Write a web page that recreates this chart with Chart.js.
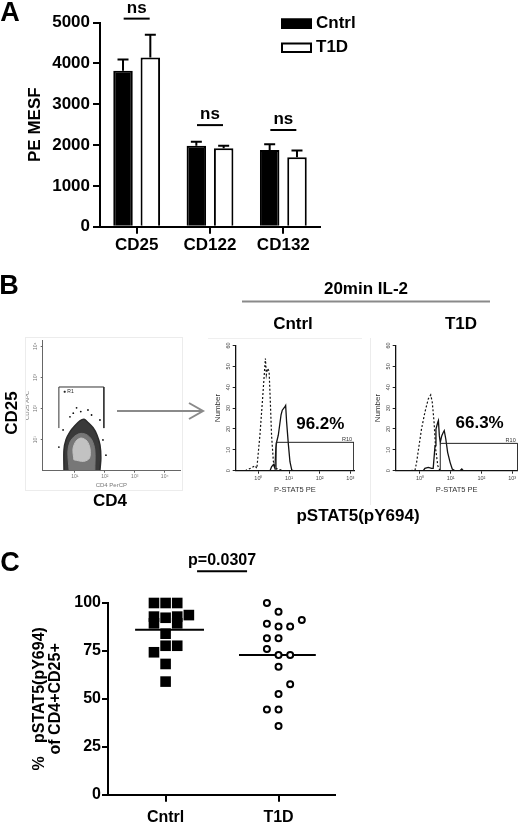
<!DOCTYPE html>
<html><head><meta charset="utf-8">
<script src="https://cdn.jsdelivr.net/npm/chart.js@4.4.0/dist/chart.umd.min.js"></script>
<style>
html,body{margin:0;padding:0;background:#fff;}
body{width:520px;height:823px;position:relative;overflow:hidden;font-family:"Liberation Sans",Arial,Helvetica,sans-serif;}
canvas{position:absolute;}
.t{position:absolute;white-space:nowrap;color:#000;font-weight:bold;font-size:17px;line-height:1;transform:translate(-50%,-50%);}
.letter{font-size:27px;}
.rot{transform:translate(-50%,-50%) rotate(-90deg);}
</style></head><body>
<canvas id="cA"></canvas>
<canvas id="cDot"></canvas>
<canvas id="cH1"></canvas>
<canvas id="cH2"></canvas>
<canvas id="cC"></canvas>
<svg width="520" height="823" style="position:absolute;left:0;top:0;pointer-events:none">
  <rect x="25.5" y="337.5" width="157" height="153" fill="none" stroke="#ececec" stroke-width="1"/>
  <line x1="208" y1="338.5" x2="362" y2="338.5" stroke="#efefef" stroke-width="1"/>
  <line x1="370.5" y1="338" x2="370.5" y2="505" stroke="#ececec" stroke-width="1"/>
  <line x1="242" y1="301.5" x2="490" y2="301.5" stroke="#8a8a8a" stroke-width="2"/>
  <line x1="117" y1="411" x2="202" y2="411" stroke="#8a8a8a" stroke-width="2"/>
  <polyline points="189,403 203,411 189,419" fill="none" stroke="#8a8a8a" stroke-width="2"/>
</svg>
<div class="t letter" style="left:10px;top:12px">A</div>
<div class="t letter" style="left:9px;top:285px">B</div>
<div class="t letter" style="left:10px;top:562px">C</div>
<div class="t" style="left:366px;top:288px">20min IL-2</div>
<div class="t" style="left:293px;top:323px">Cntrl</div>
<div class="t" style="left:461px;top:323px">T1D</div>
<div class="t rot" style="left:11px;top:413px">CD25</div>
<div class="t" style="left:110px;top:500px">CD4</div>
<div class="t" style="left:358px;top:515px">pSTAT5(pY694)</div>
<script>
// ================= DATA =================
// Panel A : PE MESF (mean + upper error bar end)
const receptorLabels = ['CD25', 'CD122', 'CD132'];
const groupNames = ['Cntrl', 'T1D'];
const cntrlMesf = [3825, 1985, 1880];
const t1dMesf = [4150, 1925, 1700];
const cntrlMesfUpper = [4100, 2085, 2020];
const t1dMesfUpper = [4705, 1985, 1865];
const nsBracketLevels = [5100, 2490, 2370];
const mesfTicks = [0, 1000, 2000, 3000, 4000, 5000];

// Panel B : flow histograms (x = log10 decades, y = count)
const decadeTicks = [0, 1, 2, 3];
const decadeTickLabels = ['10⁰', '10¹', '10²', '10³'];
const countTicks = [0, 10, 20, 30, 40, 50, 60];
const cntrlIsoLog = [-0.43, -0.22, -0.11, -0.05, 0.05, 0.13, 0.20, 0.23, 0.26, 0.30, 0.35, 0.39, 0.43, 0.49, 0.57, 0.82];
const cntrlIsoCount = [0, 1.4, 2.4, 1.1, 17, 33, 47.7, 53.8, 46, 49, 47.7, 33, 17, 4.3, 1.1, 0];
const cntrlStimLog = [0.38, 0.43, 0.49, 0.54, 0.57, 0.60, 0.65, 0.74, 0.78, 0.85, 0.89, 0.92, 0.98, 1.03, 1.09, 1.14];
const cntrlStimCount = [0, 1.9, 3, 1.1, 10.8, 14, 17, 26.8, 29, 30.3, 31.3, 23.6, 12.4, 4.3, 0.3, 0];
const t1dIsoLog = [-0.30, -0.16, -0.11, -0.03, 0.05, 0.16, 0.27, 0.35, 0.40, 0.46, 0.51, 0.58, 0.65];
const t1dIsoCount = [0, 0.3, 4, 12, 20, 28, 34.4, 36.3, 32.8, 23, 10.4, 2.4, 0];
const t1dStimLog = [0.05, 0.11, 0.16, 0.27, 0.38, 0.43, 0.49, 0.52, 0.58, 0.60, 0.63, 0.66, 0.71, 0.76, 0.79, 0.84, 0.90, 0.98, 1.05, 1.14, 1.30, 1.36, 1.41];
const t1dStimCount = [0, 0, 1.1, 1.6, 1.1, 1.1, 12, 20, 23.2, 24, 16.8, 13.6, 16.8, 18.4, 19.2, 15.2, 8.8, 4, 0.8, 0, 0, 0.8, 0];
const cntrlGateLog = [0.58, 3.12];
const cntrlGateLevel = 13.6;
const t1dGateLog = [0.66, 3.18];
const t1dGateLevel = 13.1;
const pctPositive = [96.2, 66.3];

// Panel B : CD4 vs CD25 density (log10 decades)
const dotTicks = [1, 2, 3, 4];
const dotTickLabels = ['10¹', '10²', '10³', '10⁴'];
const outerCd4 = [0.64, 0.64, 0.71, 0.84, 1.01, 1.17, 1.31, 1.44, 1.61, 1.74, 1.84, 1.87, 1.84];
const outerCd25 = [0.02, 0.67, 1.00, 1.25, 1.45, 1.60, 1.65, 1.55, 1.38, 1.15, 0.83, 0.41, 0.02];
const midCd4 = [0.81, 0.77, 0.84, 1.01, 1.21, 1.41, 1.57, 1.67, 1.67];
const midCd25 = [0.02, 0.60, 0.92, 1.12, 1.20, 1.15, 0.99, 0.67, 0.02];
const innerCd4 = [0.97, 0.94, 1.04, 1.21, 1.41, 1.51, 1.49, 1.30, 0.97];
const innerCd25 = [0.35, 0.70, 0.95, 1.05, 0.95, 0.70, 0.40, 0.30, 0.35];
const eventCd4 = [1.06, 1.44, 1.56, 0.84, 1.84, 0.61, 1.94, 0.47, 2.04, 1.20, 0.95];
const eventCd25 = [2.02, 1.95, 1.79, 1.73, 1.63, 1.31, 0.99, 0.76, 0.50, 1.90, 1.85];
const gateR1Cd4 = [0.47, 1.97];
const gateR1Cd25 = [1.37, 2.69];

// Panel C : % pSTAT5 of CD4+CD25+
const cntrlPct = [100, 100, 100, 93.7, 92.9, 89.4, 92.3, 92.9, 89.4, 84, 77.7, 77.7, 74.3, 68.2, 59];
const cntrlCol = [-1, 0, 1, 2, -1, -1, 0, 1, 1, 0, 0, 1, -1, 0, 0];
const t1dPct = [100, 95.5, 91.1, 89.2, 87.8, 87.8, 81.6, 81.6, 76, 72.9, 72.9, 66.8, 57.6, 52.5, 44.5, 44.5, 35.8];
const t1dCol = [-1, 0, 2, -1, 0, 1, -1, 0, -1, 0, 1, 0, 1, 0, -1, 0, 0];
const pctTicks = [0, 25, 50, 75, 100];
const pValueText = 'p=0.0307';

// ================= HELPERS =================
const FONT = '"Liberation Sans", Arial, Helvetica, sans-serif';
Chart.defaults.font.family = FONT;
Chart.defaults.color = '#000';
const bold = (s, lh) => ({family: FONT, size: s, weight: 'bold', lineHeight: lh || 1.2});
const plain = (s) => ({family: FONT, size: s, weight: 'normal'});

function setup(id, L, T, W, H, x0, y0, x1, y1) {
  const c = document.getElementById(id);
  c.width = W; c.height = H;
  c.style.left = L + 'px'; c.style.top = T + 'px';
  c.style.width = W + 'px'; c.style.height = H + 'px';
  return {canvas: c, padding: {left: 0, top: y0 - T, right: L + W - x1, bottom: 0}, yW: x0 - L, xH: T + H - y1};
}
const pts = (xs, ys) => xs.map((x, i) => ({x: x, y: ys[i]}));
const rectPts = (xr, yr) => [{x: xr[0], y: yr[0]}, {x: xr[0], y: yr[1]}, {x: xr[1], y: yr[1]}, {x: xr[1], y: yr[0]}];

const errorBars = {
  id: 'errorBars',
  afterDatasetsDraw(chart, args, o) {
    const ctx = chart.ctx, y = chart.scales.y;
    o.uppers.forEach((arr, di) => {
      chart.getDatasetMeta(di).data.forEach((bar, i) => {
        const yt = y.getPixelForValue(arr[i]);
        ctx.save(); ctx.strokeStyle = '#000'; ctx.lineWidth = 2;
        ctx.beginPath();
        ctx.moveTo(bar.x, bar.y); ctx.lineTo(bar.x, yt);
        ctx.moveTo(bar.x - o.cap, yt); ctx.lineTo(bar.x + o.cap, yt);
        ctx.stroke(); ctx.restore();
      });
    });
  }
};
const sigMarks = {
  id: 'sigMarks',
  afterDraw(chart, args, o) {
    const ctx = chart.ctx, xs = chart.scales.x, ys = chart.scales.y;
    o.items.forEach(it => {
      const xc = xs.getPixelForValue(it.x), yp = ys.getPixelForValue(it.y);
      ctx.save(); ctx.strokeStyle = '#000'; ctx.lineWidth = 2;
      ctx.beginPath(); ctx.moveTo(xc - it.half, yp); ctx.lineTo(xc + it.half, yp); ctx.stroke();
      ctx.fillStyle = '#000'; ctx.font = 'bold ' + o.size + 'px ' + FONT;
      ctx.textAlign = 'center'; ctx.textBaseline = 'alphabetic';
      ctx.fillText(it.text, xc, yp - it.gap);
      ctx.restore();
    });
  }
};
const boxLegend = {
  id: 'boxLegend',
  afterDraw(chart, args, o) {
    const ctx = chart.ctx;
    chart.data.datasets.forEach((ds, i) => {
      const yy = o.y + i * o.gap;
      ctx.save();
      ctx.fillStyle = ds.backgroundColor; ctx.strokeStyle = '#000'; ctx.lineWidth = 2;
      ctx.fillRect(o.x, yy, o.w, o.h); ctx.strokeRect(o.x + 1, yy + 1, o.w - 2, o.h - 2);
      ctx.fillStyle = '#000'; ctx.font = 'bold ' + o.size + 'px ' + FONT;
      ctx.textAlign = 'left'; ctx.textBaseline = 'middle';
      ctx.fillText(ds.label, o.x + o.w + 4, yy + o.h / 2);
      ctx.restore();
    });
  }
};
const notes = {
  id: 'notes',
  afterDatasetsDraw(chart, args, o) {
    const ctx = chart.ctx, xs = chart.scales.x, ys = chart.scales.y;
    o.items.forEach(it => {
      ctx.save(); ctx.fillStyle = it.color; ctx.font = it.font;
      ctx.textAlign = it.align; ctx.textBaseline = it.baseline;
      ctx.fillText(it.text, xs.getPixelForValue(it.x) + it.dx, ys.getPixelForValue(it.y) + it.dy);
      ctx.restore();
    });
  }
};

// ================= PANEL A =================
(function () {
  const b = setup('cA', 0, 0, 380, 262, 100, 22.7, 320, 226.7);
  const barOpts = {borderColor: '#000', borderWidth: 2, categoryPercentage: 0.745, barPercentage: 0.714};
  new Chart(b.canvas, {
    type: 'bar',
    data: {labels: receptorLabels, datasets: [
      Object.assign({label: groupNames[0], data: cntrlMesf, backgroundColor: '#000'}, barOpts),
      Object.assign({label: groupNames[1], data: t1dMesf, backgroundColor: '#fff'}, barOpts)
    ]},
    options: {
      responsive: false, animation: false, devicePixelRatio: 1,
      layout: {padding: b.padding},
      plugins: {
        legend: {display: false}, tooltip: {enabled: false},
        errorBars: {uppers: [cntrlMesfUpper, t1dMesfUpper], cap: 5.5},
        sigMarks: {size: 17, items: nsBracketLevels.map((v, i) => ({x: i, y: v, half: 13, text: 'ns', gap: 6}))},
        boxLegend: {x: 281, y: 18.5, gap: 24, w: 31, h: 10.5, size: 17}
      },
      scales: {
        x: {
          offset: true,
          grid: {display: true, drawOnChartArea: false, offset: false, color: '#000', lineWidth: 2, tickLength: 7},
          border: {color: '#000', width: 2},
          ticks: {color: '#000', font: bold(17), padding: 1},
          afterFit(s) { s.height = b.xH; }
        },
        y: {
          min: 0, max: 5000,
          afterBuildTicks(s) { s.ticks = mesfTicks.map(v => ({value: v})); },
          grid: {display: true, drawOnChartArea: false, color: '#000', lineWidth: 2, tickLength: 7},
          border: {color: '#000', width: 2},
          ticks: {color: '#000', font: bold(17), padding: 3, callback: v => String(v)},
          title: {display: true, text: 'PE MESF', color: '#000', font: bold(17), padding: {top: 25, bottom: 0}},
          afterFit(s) { s.width = b.yW; }
        }
      }
    },
    plugins: [errorBars, sigMarks, boxLegend]
  });
})();

// ================= PANEL B : histograms =================
function makeHist(id, L, W, x1, xmin, xmax, isoX, isoY, stX, stY, gateX, gateLvl, pct, pctPos) {
  const b = setup(id, L, 335, W, 165, L + 30.7, 345.5, x1, 470.7);
  new Chart(b.canvas, {
    type: 'line',
    data: {datasets: [
      {data: rectPts(gateX, [0, gateLvl]), borderColor: '#222', borderWidth: 1},
      {data: pts(stX, stY), borderColor: '#111', borderWidth: 1.3},
      {data: pts(isoX, isoY), borderColor: '#111', borderWidth: 1.2, borderDash: [2, 2]}
    ]},
    options: {
      responsive: false, animation: false, devicePixelRatio: 1,
      layout: {padding: b.padding},
      elements: {point: {radius: 0}, line: {tension: 0, fill: false}},
      plugins: {
        legend: {display: false}, tooltip: {enabled: false},
        notes: {items: [
          {text: pct.toFixed(1) + '%', x: pctPos[0], y: pctPos[1], dx: 0, dy: 0, font: 'bold 17px ' + FONT, color: '#000', align: 'center', baseline: 'middle'},
          {text: 'R10', x: gateX[1], y: gateLvl, dx: -2, dy: -1.5, font: '5.5px ' + FONT, color: '#333', align: 'right', baseline: 'alphabetic'}
        ]}
      },
      scales: {
        x: {
          type: 'linear', min: xmin, max: xmax,
          afterBuildTicks(s) { s.ticks = decadeTicks.map(v => ({value: v})); },
          grid: {display: true, drawOnChartArea: false, color: '#222', lineWidth: 1, tickLength: 3},
          border: {color: '#111', width: 1.3},
          ticks: {color: '#444', font: plain(5.5), padding: 1, maxRotation: 0, callback: v => decadeTickLabels[decadeTicks.indexOf(v)]},
          title: {display: true, text: 'P-STAT5 PE', color: '#333', font: plain(7.5), padding: {top: 0, bottom: 5.5}},
          afterFit(s) { s.height = b.xH; }
        },
        y: {
          min: 0, max: 60,
          afterBuildTicks(s) { s.ticks = countTicks.map(v => ({value: v})); },
          grid: {display: true, drawOnChartArea: false, color: '#222', lineWidth: 1, tickLength: 3},
          border: {color: '#111', width: 1.3},
          ticks: {color: '#444', font: plain(5.5), padding: 1, minRotation: 90, maxRotation: 90, crossAlign: 'center'},
          title: {display: true, text: 'Number', color: '#333', font: plain(8), padding: {top: 8, bottom: 0}},
          afterFit(s) { s.width = b.yW; }
        }
      }
    },
    plugins: [notes]
  });
}
makeHist('cH1', 205, 160, 354, -0.74, 3.12, cntrlIsoLog, cntrlIsoCount, cntrlStimLog, cntrlStimCount, cntrlGateLog, cntrlGateLevel, pctPositive[0], [2.02, 22.4]);
makeHist('cH2', 365, 155, 517.7, -0.79, 3.18, t1dIsoLog, t1dIsoCount, t1dStimLog, t1dStimCount, t1dGateLog, t1dGateLevel, pctPositive[1], [1.94, 22.8]);

// ================= PANEL B : CD4 / CD25 density =================
(function () {
  const b = setup('cDot', 20, 330, 165, 165, 42.7, 340, 180, 470.7);
  new Chart(b.canvas, {
    type: 'line',
    data: {datasets: [
      {data: rectPts(gateR1Cd4, gateR1Cd25), borderColor: '#333', borderWidth: 1, fill: false, tension: 0},
      {data: pts(innerCd4, innerCd25), borderColor: '#c2c2c2', backgroundColor: '#c2c2c2', borderWidth: 1, fill: 'shape'},
      {data: pts(midCd4, midCd25), borderColor: '#777', backgroundColor: '#777', borderWidth: 1, fill: 'shape'},
      {data: pts(outerCd4, outerCd25), borderColor: '#2b2b2b', backgroundColor: '#3a3a3a', borderWidth: 1.5, fill: 'shape'},
      {data: pts(eventCd4, eventCd25), showLine: false, pointRadius: 0.9, pointBackgroundColor: '#111', pointBorderWidth: 0}
    ]},
    options: {
      responsive: false, animation: false, devicePixelRatio: 1,
      layout: {padding: b.padding},
      elements: {point: {radius: 0}, line: {tension: 0.3}},
      plugins: {
        legend: {display: false}, tooltip: {enabled: false},
        notes: {items: [
          {text: '● R1', x: gateR1Cd4[0], y: gateR1Cd25[1], dx: 4, dy: 5, font: '5px ' + FONT, color: '#222', align: 'left', baseline: 'middle'}
        ]}
      },
      scales: {
        x: {
          type: 'linear', min: -0.07, max: 4.51,
          afterBuildTicks(s) { s.ticks = dotTicks.map(v => ({value: v})); },
          grid: {display: true, drawOnChartArea: false, color: '#666', lineWidth: 1, tickLength: 2},
          border: {color: '#666', width: 1},
          ticks: {color: '#777', font: plain(5), padding: 1, maxRotation: 0, callback: v => dotTickLabels[dotTicks.indexOf(v)]},
          title: {display: true, text: 'CD4 PerCP', color: '#777', font: plain(6), padding: {top: 0, bottom: 6}},
          afterFit(s) { s.height = b.xH; }
        },
        y: {
          min: 0, max: 4.2,
          afterBuildTicks(s) { s.ticks = dotTicks.map(v => ({value: v})); },
          grid: {display: true, drawOnChartArea: false, color: '#666', lineWidth: 1, tickLength: 2},
          border: {color: '#666', width: 1},
          ticks: {color: '#777', font: plain(5), padding: 1, minRotation: 90, maxRotation: 90, crossAlign: 'center', callback: v => dotTickLabels[dotTicks.indexOf(v)]},
          title: {display: true, text: 'CD25 APC', color: '#777', font: plain(6), padding: {top: 3.5, bottom: 0}},
          afterFit(s) { s.width = b.yW; }
        }
      }
    },
    plugins: [notes]
  });
})();

// ================= PANEL C =================
(function () {
  const b = setup('cC', 0, 535, 345, 288, 108, 603, 335, 794.7);
  const colStep = 0.103;
  const mean = a => a.reduce((s, v) => s + v, 0) / a.length;
  const cMean = mean(cntrlPct), tMean = mean(t1dPct);
  new Chart(b.canvas, {
    type: 'scatter',
    data: {datasets: [
      {data: cntrlPct.map((v, i) => ({x: 1 + cntrlCol[i] * colStep, y: v})), pointStyle: 'rect', pointRadius: 7.5, backgroundColor: '#000', borderWidth: 0, clip: false},
      {data: t1dPct.map((v, i) => ({x: 2 + t1dCol[i] * colStep, y: v})), pointStyle: 'circle', pointRadius: 3, backgroundColor: '#fff', borderColor: '#000', borderWidth: 2, clip: false},
      {type: 'line', data: [{x: 1 - 0.27, y: cMean}, {x: 1 + 0.34, y: cMean}], borderColor: '#000', borderWidth: 2, pointRadius: 0},
      {type: 'line', data: [{x: 2 - 0.35, y: tMean}, {x: 2 + 0.33, y: tMean}], borderColor: '#000', borderWidth: 2, pointRadius: 0}
    ]},
    options: {
      responsive: false, animation: false, devicePixelRatio: 1,
      layout: {padding: b.padding},
      plugins: {
        legend: {display: false}, tooltip: {enabled: false},
        sigMarks: {size: 16, items: [{x: 1.5, y: 116.5, half: 25, text: pValueText, gap: 6}]}
      },
      scales: {
        x: {
          type: 'linear', min: 0.49, max: 2.5,
          afterBuildTicks(s) { s.ticks = [1, 2].map(v => ({value: v})); },
          grid: {display: true, drawOnChartArea: false, color: '#000', lineWidth: 2, tickLength: 7},
          border: {color: '#000', width: 2},
          ticks: {color: '#000', font: bold(16), padding: 6, maxRotation: 0, callback: v => groupNames[v - 1]},
          afterFit(s) { s.height = b.xH; }
        },
        y: {
          min: 0, max: 100,
          afterBuildTicks(s) { s.ticks = pctTicks.map(v => ({value: v})); },
          grid: {display: true, drawOnChartArea: false, color: '#000', lineWidth: 2, tickLength: 6},
          border: {color: '#000', width: 2},
          ticks: {color: '#000', font: bold(16), padding: 1},
          title: {display: true, text: ['%   pSTAT5(pY694)', 'of CD4+CD25+'], color: '#000', font: bold(16, 1.0), padding: {top: 32, bottom: 0}},
          afterFit(s) { s.width = b.yW; }
        }
      }
    },
    plugins: [sigMarks]
  });
})();
</script>
</body></html>
